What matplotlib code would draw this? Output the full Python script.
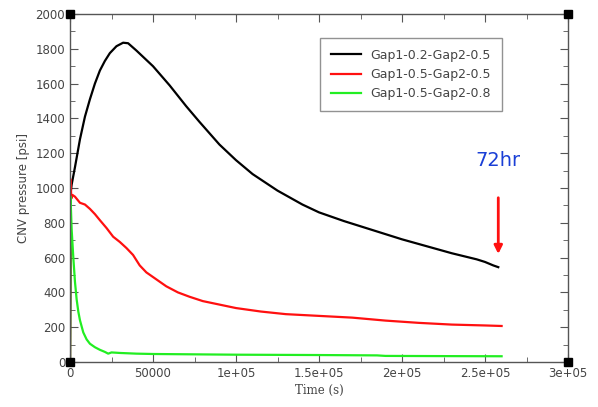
import numpy as np
import matplotlib.pyplot as plt
from matplotlib.ticker import MultipleLocator, FixedLocator

# values
t_black = [0, 500, 1000, 3000, 6000, 9000, 12000, 15000, 18000, 21000, 24000, 28000,
           32000, 35000, 40000, 45000, 50000, 60000, 70000, 78000, 90000, 100000,
           110000, 125000, 140000, 150000, 165000, 180000, 200000, 215000, 230000,
           245000, 250000, 255000, 258000]
p_black = [0, 980, 1020, 1120, 1280, 1410, 1510, 1600, 1675, 1730, 1775, 1815,
           1835, 1832, 1790, 1745, 1700, 1590, 1470, 1380, 1250, 1160,
           1080, 985, 905, 860, 810, 765, 705, 665, 625, 590, 575, 555, 545]

t_red = [0, 300, 800, 1500, 3000, 6000, 9000, 12000, 15000, 18000, 22000, 26000,
         30000, 34000, 38000, 42000, 46000, 52000, 58000, 65000, 72000, 80000,
         90000, 100000, 115000, 130000, 150000, 170000, 190000, 210000, 230000,
         250000, 260000]
p_red = [0, 1050, 940, 960, 950, 915, 905, 880, 850, 815, 770, 720,
         690, 655, 615, 555, 515, 475, 435, 400, 375, 350,
         330, 310, 290, 275, 265, 255, 238, 225, 215, 210, 207]

t_green = [0, 300, 1000, 2000, 3000, 4000, 5000, 6000, 8000, 10000, 12000, 15000,
           18000, 21000, 23000, 25000, 30000, 40000, 50000, 75000, 100000, 150000,
           185000, 190000, 220000, 260000]
p_green = [0, 950, 760, 600, 460, 360, 290, 240, 170, 130, 105, 85,
           70, 58, 48, 55, 52, 48, 46, 44, 42, 40, 38, 35, 34, 33]

labels = ['Gap1-0.2-Gap2-0.5', 'Gap1-0.5-Gap2-0.5', 'Gap1-0.5-Gap2-0.8']
x_ticks = [0, 50000, 100000, 150000, 200000, 250000, 300000]
x_ticklabels = ['0', '50000', '1e+05', '1.5e+05', '2e+05', '2.5e+05', '3e+05']

fig = plt.figure(figsize=(5.98, 4.07), dpi=100)
ax = fig.add_axes([70 / 598, 1 - 362 / 407, 498 / 598, 348 / 407])

ax.plot(t_black, p_black, color='black', lw=1.6, label=labels[0])
ax.plot(t_red, p_red, color='#ff1010', lw=1.6, label=labels[1])
ax.plot(t_green, p_green, color='#22ee22', lw=1.6, label=labels[2])

ax.set_xlim(0, 300000)
ax.set_ylim(0, 2000)
ax.xaxis.set_major_locator(FixedLocator(x_ticks))
ax.set_xticklabels(x_ticklabels)
ax.xaxis.set_minor_locator(MultipleLocator(25000))
ax.yaxis.set_major_locator(MultipleLocator(200))
ax.yaxis.set_minor_locator(MultipleLocator(100))

ax.tick_params(which='both', direction='in', top=True, right=True,
               colors='#555555', labelcolor='#444444', labelsize=8.5)
ax.tick_params(which='major', length=6)
ax.tick_params(which='minor', length=3.5)
for s in ax.spines.values():
    s.set_color('#555555')
    s.set_linewidth(1.0)

ax.set_xlabel('Time (s)', family='DejaVu Serif', fontsize=8.5, color='#444444', labelpad=3)
ax.set_ylabel('CNV pressure [psi]', fontsize=8.5, color='#444444', labelpad=4)

# black squares at the corners
ax.plot([0, 1, 0, 1], [0, 0, 1, 1], 's', color='black', ms=6,
        transform=ax.transAxes, clip_on=False, zorder=5)

leg = ax.legend(loc='upper left', bbox_to_anchor=(0.502, 0.931), borderaxespad=0,
                fontsize=9, frameon=True, fancybox=False, handlelength=2.4,
                borderpad=0.85, labelspacing=0.5, edgecolor='#777777')
for txt in leg.get_texts():
    txt.set_color('#444444')

ax.text(258000, 1105, '72hr', color='#1a3fd6', fontsize=14, ha='center', va='bottom')
ax.annotate('', xy=(258000, 605), xytext=(258000, 960),
            arrowprops=dict(arrowstyle='-|>', color='#ff1010', lw=2, mutation_scale=12))

fig.savefig('out.png', dpi=100)
